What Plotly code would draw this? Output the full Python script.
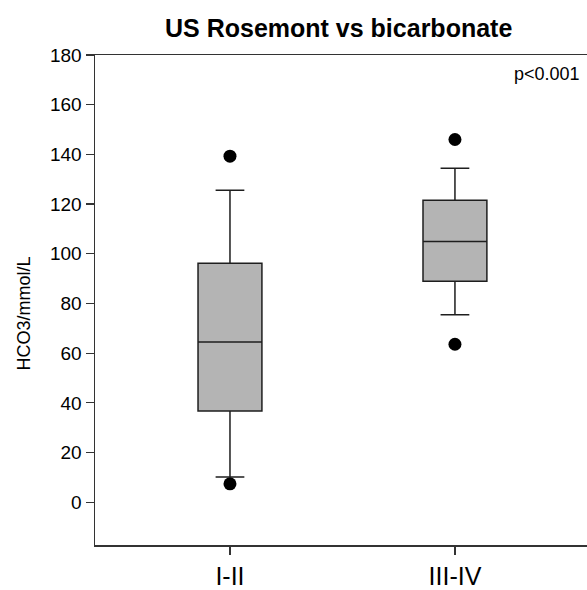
import plotly.graph_objects as go

categories = ["I-II", "III-IV"]
q1 = [36.7, 88.9]
median = [64.5, 104.9]
q3 = [96.2, 121.5]
lower_whisker = [10.2, 75.5]
upper_whisker = [125.6, 134.4]
outlier_x = ["I-II", "I-II", "III-IV", "III-IV"]
outlier_y = [139.3, 7.4, 146.0, 63.6]
y_ticks = [0, 20, 40, 60, 80, 100, 120, 140, 160, 180]

fig = go.Figure()
fig.add_trace(go.Box(
    x=categories, q1=q1, median=median, q3=q3,
    lowerfence=lower_whisker, upperfence=upper_whisker,
    boxpoints=False, width=0.284, whiskerwidth=0.45,
    fillcolor="#b4b4b4", line=dict(color="#1e1e1e", width=1.5),
    showlegend=False, hoverinfo="skip",
))
fig.add_trace(go.Scatter(
    x=outlier_x, y=outlier_y, mode="markers",
    marker=dict(color="black", size=13), showlegend=False, hoverinfo="skip",
))

font = "Liberation Sans, Arial, sans-serif"
L, T, B, W, H = 95, 55, 42, 587, 590
pw, ph = W - L, H - T - B
fig.update_layout(
    width=W, height=H,
    margin=dict(l=L, r=0, t=T, b=B),
    plot_bgcolor="white", paper_bgcolor="white",
    font=dict(family=font, color="black"),
    hovermode=False,
    xaxis=dict(
        type="category", range=[-0.6, 1.587],
        showline=True, linecolor="#333333", linewidth=1.5, mirror=True,
        ticks="outside", ticklen=8, tickcolor="#333333", tickwidth=1.2,
        tickfont=dict(size=25, family=font, color="black"),
        showgrid=False, zeroline=False,
    ),
    yaxis=dict(
        range=[-17.2, 180], tickvals=y_ticks,
        showline=True, linecolor="#333333", linewidth=1.5,
        ticks="outside", ticklen=8, tickcolor="#333333", tickwidth=1.2,
        tickfont=dict(size=19, family=font, color="black"),
        showgrid=False, zeroline=False,
    ),
    annotations=[
        dict(text="<b>US Rosemont vs bicarbonate</b>", xref="paper", yref="paper",
             x=(338 - L) / pw, y=(H - B - 28) / ph, showarrow=False,
             font=dict(size=25, family=font, color="black"), xanchor="center", yanchor="middle"),
        dict(text="p<0.001", xref="paper", yref="paper",
             x=(582 - L) / pw, y=(H - B - 74) / ph, showarrow=False,
             font=dict(size=18, family=font, color="black"), xanchor="right", yanchor="middle"),
        dict(text="HCO3/mmol/L", xref="paper", yref="paper",
             x=(24 - L) / pw, y=(H - B - 315) / ph, showarrow=False, textangle=-90,
             font=dict(size=18, family=font, color="black"), xanchor="center", yanchor="middle"),
    ],
)

fig.write_html(
    "out.html",
    config={"displayModeBar": False, "staticPlot": True},
    post_script="document.body.style.margin='0';document.body.style.overflow='hidden';",
)
